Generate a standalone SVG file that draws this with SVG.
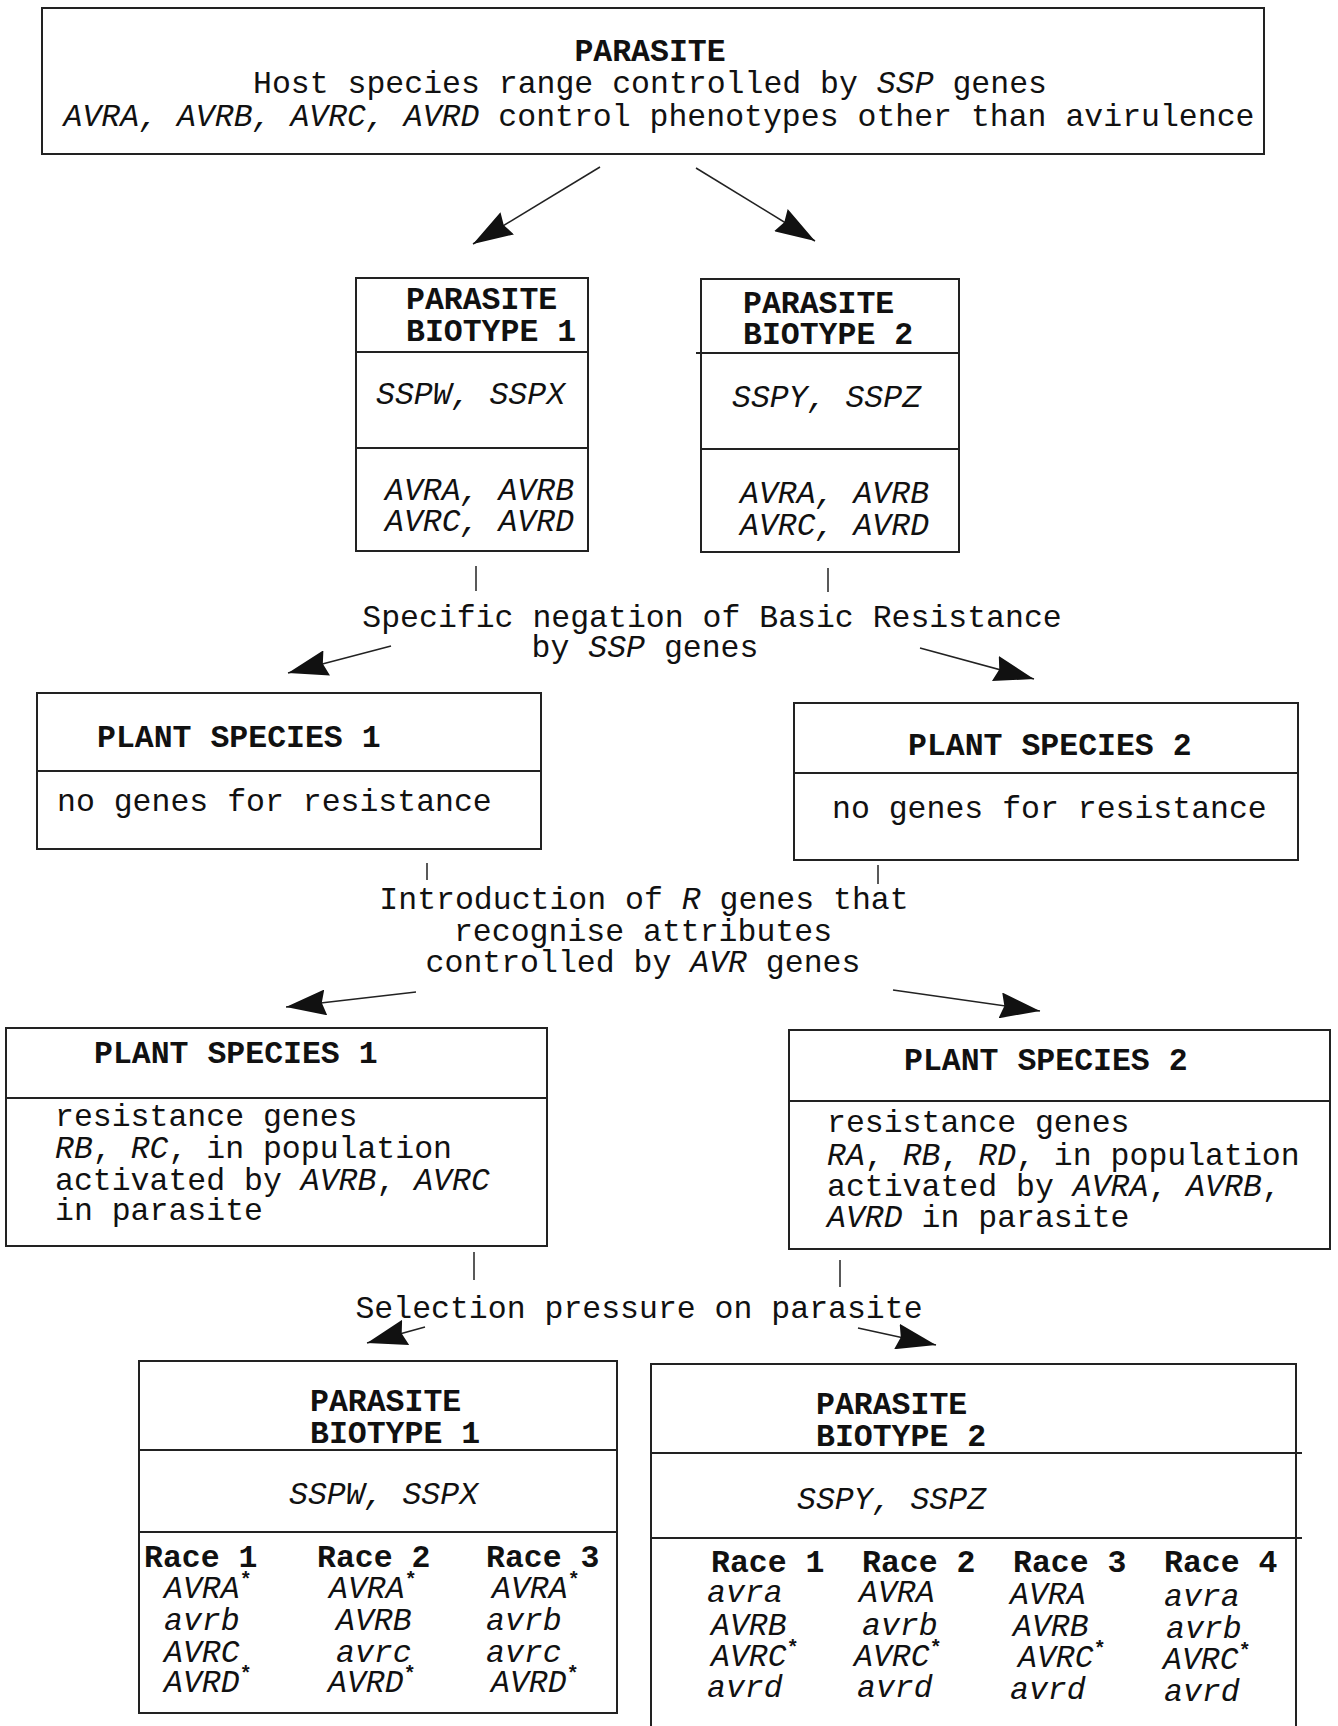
<svg xmlns="http://www.w3.org/2000/svg" width="1338" height="1726" viewBox="0 0 1338 1726">
<style>
text{font-family:"Liberation Mono","Courier New",monospace;font-size:31.5px;fill:#111}
.b{font-weight:bold}
.i{font-style:italic}
.box{fill:none;stroke:#222;stroke-width:2}
.div{stroke:#222;stroke-width:2}
.ln{stroke:#222;stroke-width:1.5;fill:none}
.ar{stroke:#222;stroke-width:1.5;fill:none;marker-end:url(#ah)}
.m{text-anchor:middle}
.st{font-size:20px;font-style:normal;font-weight:bold}
</style>
<defs>
<marker id="ah" viewBox="0 0 40 26" refX="40" refY="13" markerWidth="40" markerHeight="26" markerUnits="userSpaceOnUse" orient="auto">
<path d="M0,0 L40,13 L0,26 L4,13 z" fill="#111"/>
</marker>
</defs>
<rect width="1338" height="1726" fill="#fff"/>

<g id="parasite">
<rect class="box" x="42" y="8" width="1222" height="146"/>
<text class="b m" x="650" y="61">PARASITE</text>
<text class="m" x="650" y="93">Host species range controlled by <tspan class="i">SSP</tspan> genes</text>
<text class="m" x="659" y="126"><tspan class="i">AVRA, AVRB, AVRC, AVRD</tspan> control phenotypes other than avirulence</text>
</g>

<g id="biotype1">
<rect class="box" x="356" y="278" width="232" height="273"/>
<line class="div" x1="356" y1="352" x2="588" y2="352"/>
<line class="div" x1="356" y1="448" x2="588" y2="448"/>
<text class="b" x="406" y="309">PARASITE</text>
<text class="b" x="406" y="341">BIOTYPE 1</text>
<text class="i" x="376" y="404">SSPW, SSPX</text>
<text class="i" x="385" y="500">AVRA, AVRB</text>
<text class="i" x="385" y="531">AVRC, AVRD</text>
</g>

<g id="biotype2">
<rect class="box" x="701" y="279" width="258" height="273"/>
<line class="div" x1="696" y1="353" x2="959" y2="353"/>
<line class="div" x1="701" y1="449" x2="959" y2="449"/>
<text class="b" x="743" y="313">PARASITE</text>
<text class="b" x="743" y="344">BIOTYPE 2</text>
<text class="i" x="732" y="407">SSPY, SSPZ</text>
<text class="i" x="740" y="503">AVRA, AVRB</text>
<text class="i" x="740" y="535">AVRC, AVRD</text>
</g>

<g id="label-negation">
<text class="m" x="712" y="627">Specific negation of Basic Resistance</text>
<text class="m" x="645" y="657">by <tspan class="i">SSP</tspan> genes</text>
</g>

<g id="plant1a">
<rect class="box" x="37" y="693" width="504" height="156"/>
<line class="div" x1="37" y1="771" x2="541" y2="771"/>
<text class="b" x="97" y="747">PLANT SPECIES 1</text>
<text x="57" y="811">no genes for resistance</text>
</g>

<g id="plant2a">
<rect class="box" x="794" y="703" width="504" height="157"/>
<line class="div" x1="794" y1="773" x2="1298" y2="773"/>
<text class="b" x="908" y="755">PLANT SPECIES 2</text>
<text x="832" y="818">no genes for resistance</text>
</g>

<g id="label-introduction">
<text class="m" x="644" y="909">Introduction of <tspan class="i">R</tspan> genes that</text>
<text class="m" x="643" y="941">recognise attributes</text>
<text class="m" x="643" y="972">controlled by <tspan class="i">AVR</tspan> genes</text>
</g>

<g id="plant1b">
<rect class="box" x="6" y="1028" width="541" height="218"/>
<line class="div" x1="6" y1="1098" x2="547" y2="1098"/>
<text class="b" x="94" y="1063">PLANT SPECIES 1</text>
<text x="55" y="1126">resistance genes</text>
<text x="55" y="1158"><tspan class="i">RB</tspan>, <tspan class="i">RC</tspan>, in population</text>
<text x="55" y="1190">activated by <tspan class="i">AVRB</tspan>, <tspan class="i">AVRC</tspan></text>
<text x="55" y="1220">in parasite</text>
</g>

<g id="plant2b">
<rect class="box" x="789" y="1030" width="541" height="219"/>
<line class="div" x1="789" y1="1101" x2="1330" y2="1101"/>
<text class="b" x="904" y="1070">PLANT SPECIES 2</text>
<text x="827" y="1132">resistance genes</text>
<text x="827" y="1165"><tspan class="i">RA</tspan>, <tspan class="i">RB</tspan>, <tspan class="i">RD</tspan>, in population</text>
<text x="827" y="1196">activated by <tspan class="i">AVRA</tspan>, <tspan class="i">AVRB</tspan>,</text>
<text x="827" y="1227"><tspan class="i">AVRD</tspan> in parasite</text>
</g>

<g id="label-selection">
<text class="m" x="639" y="1318">Selection pressure on parasite</text>
</g>

<g id="biotype1b">
<rect class="box" x="139" y="1361" width="478" height="352"/>
<line class="div" x1="139" y1="1450" x2="617" y2="1450"/>
<line class="div" x1="139" y1="1532" x2="617" y2="1532"/>
<text class="b" x="310" y="1411">PARASITE</text>
<text class="b" x="310" y="1443">BIOTYPE 1</text>
<text class="i" x="289" y="1504">SSPW, SSPX</text>
<text class="b" x="144" y="1567">Race 1</text>
<text class="b" x="317" y="1567">Race 2</text>
<text class="b" x="486" y="1567">Race 3</text>
<text class="i" x="164" y="1598">AVRA<tspan class="st" dy="-12">*</tspan></text>
<text class="i" x="164" y="1630">avrb</text>
<text class="i" x="164" y="1662">AVRC</text>
<text class="i" x="164" y="1692">AVRD<tspan class="st" dy="-12">*</tspan></text>
<text class="i" x="329" y="1598">AVRA<tspan class="st" dy="-12">*</tspan></text>
<text class="i" x="336" y="1630">AVRB</text>
<text class="i" x="336" y="1662">avrc</text>
<text class="i" x="328" y="1692">AVRD<tspan class="st" dy="-12">*</tspan></text>
<text class="i" x="492" y="1598">AVRA<tspan class="st" dy="-12">*</tspan></text>
<text class="i" x="486" y="1630">avrb</text>
<text class="i" x="486" y="1662">avrc</text>
<text class="i" x="491" y="1692">AVRD<tspan class="st" dy="-12">*</tspan></text>
</g>

<g id="biotype2b">
<path class="box" d="M651,1726 V1364 H1296 V1726"/>
<line class="div" x1="651" y1="1453" x2="1302" y2="1453"/>
<line class="div" x1="651" y1="1538" x2="1302" y2="1538"/>
<text class="b" x="816" y="1414">PARASITE</text>
<text class="b" x="816" y="1446">BIOTYPE 2</text>
<text class="i" x="797" y="1509">SSPY, SSPZ</text>
<text class="b" x="711" y="1572">Race 1</text>
<text class="b" x="862" y="1572">Race 2</text>
<text class="b" x="1013" y="1572">Race 3</text>
<text class="b" x="1164" y="1572">Race 4</text>
<text class="i" x="707" y="1602">avra</text>
<text class="i" x="711" y="1635">AVRB</text>
<text class="i" x="711" y="1666">AVRC<tspan class="st" dy="-12">*</tspan></text>
<text class="i" x="707" y="1697">avrd</text>
<text class="i" x="859" y="1602">AVRA</text>
<text class="i" x="862" y="1635">avrb</text>
<text class="i" x="854" y="1666">AVRC<tspan class="st" dy="-12">*</tspan></text>
<text class="i" x="857" y="1697">avrd</text>
<text class="i" x="1010" y="1604">AVRA</text>
<text class="i" x="1013" y="1636">AVRB</text>
<text class="i" x="1018" y="1667">AVRC<tspan class="st" dy="-12">*</tspan></text>
<text class="i" x="1010" y="1699">avrd</text>
<text class="i" x="1164" y="1606">avra</text>
<text class="i" x="1166" y="1638">avrb</text>
<text class="i" x="1163" y="1669">AVRC<tspan class="st" dy="-12">*</tspan></text>
<text class="i" x="1164" y="1701">avrd</text>
</g>

<g id="connectors">
<line class="ar" x1="600" y1="167" x2="473" y2="244"/>
<line class="ar" x1="696" y1="168" x2="815" y2="241"/>
<line class="ln" x1="476" y1="566" x2="476" y2="591"/>
<line class="ln" x1="828" y1="568" x2="828" y2="592"/>
<line class="ar" x1="391" y1="646" x2="288" y2="673"/>
<line class="ar" x1="920" y1="648" x2="1034" y2="679"/>
<line class="ln" x1="427" y1="863" x2="427" y2="880"/>
<line class="ln" x1="878" y1="865" x2="878" y2="884"/>
<line class="ar" x1="416" y1="992" x2="286" y2="1007"/>
<line class="ar" x1="893" y1="990" x2="1040" y2="1011"/>
<line class="ln" x1="474" y1="1252" x2="474" y2="1280"/>
<line class="ln" x1="840" y1="1260" x2="840" y2="1287"/>
<line class="ar" x1="425" y1="1327" x2="367" y2="1343"/>
<line class="ar" x1="858" y1="1328" x2="936" y2="1345"/>
</g>
</svg>
